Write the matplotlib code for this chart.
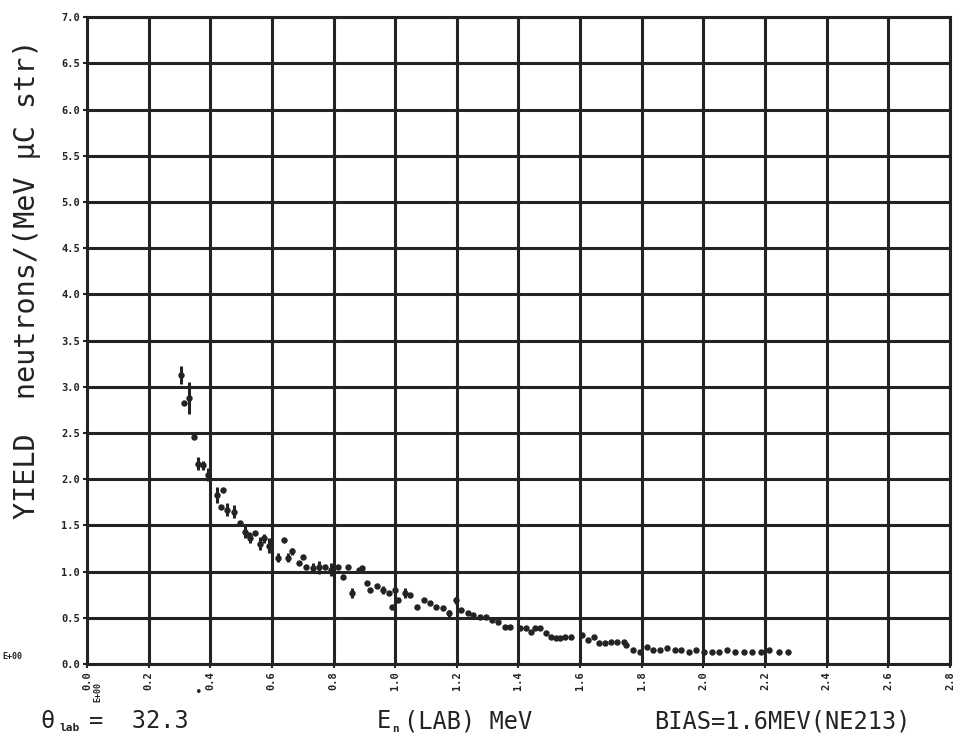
import numpy as np
import matplotlib.pyplot as plt

# neutron yield vs energy
energy = [0.304, 0.316, 0.331, 0.346, 0.361, 0.376, 0.392, 0.422, 0.440, 0.434,
          0.455, 0.476, 0.497, 0.512, 0.527, 0.530, 0.545, 0.560, 0.575, 0.590,
          0.620, 0.639, 0.651, 0.666, 0.687, 0.702, 0.711, 0.732, 0.753, 0.771,
          0.792, 0.813, 0.831, 0.846, 0.861, 0.883, 0.892, 0.910, 0.920, 0.940,
          0.961, 0.979, 1.000, 0.991, 1.009, 1.033, 1.048, 1.072, 1.093, 1.114,
          1.132, 1.154, 1.175, 1.199, 1.214, 1.235, 1.253, 1.274, 1.295, 1.313,
          1.334, 1.355, 1.373, 1.404, 1.425, 1.440, 1.455, 1.470, 1.491, 1.506,
          1.521, 1.536, 1.551, 1.569, 1.605, 1.627, 1.645, 1.660, 1.681, 1.702,
          1.720, 1.741, 1.750, 1.771, 1.795, 1.816, 1.837, 1.861, 1.883, 1.907,
          1.928, 1.952, 1.976, 2.003, 2.027, 2.051, 2.078, 2.102, 2.133, 2.157,
          2.187, 2.214, 2.244, 2.274]
yld = [3.13, 2.82, 2.88, 2.46, 2.17, 2.15, 2.05, 1.83, 1.88, 1.70,
       1.67, 1.65, 1.53, 1.43, 1.40, 1.36, 1.42, 1.30, 1.36, 1.28,
       1.15, 1.34, 1.15, 1.22, 1.09, 1.16, 1.05, 1.04, 1.05, 1.05,
       1.02, 1.05, 0.94, 1.05, 0.77, 1.02, 1.04, 0.88, 0.80, 0.84,
       0.80, 0.77, 0.80, 0.62, 0.69, 0.77, 0.75, 0.62, 0.69, 0.66,
       0.62, 0.61, 0.55, 0.69, 0.58, 0.55, 0.53, 0.51, 0.51, 0.48,
       0.46, 0.40, 0.40, 0.39, 0.39, 0.35, 0.39, 0.39, 0.34, 0.29,
       0.28, 0.28, 0.29, 0.29, 0.31, 0.26, 0.29, 0.23, 0.23, 0.24,
       0.24, 0.24, 0.21, 0.15, 0.13, 0.18, 0.15, 0.15, 0.17, 0.15,
       0.15, 0.13, 0.15, 0.13, 0.13, 0.13, 0.15, 0.13, 0.13, 0.13,
       0.13, 0.15, 0.13, 0.13]
err = [0.10, 0.0, 0.17, 0.0, 0.07, 0.05, 0.07, 0.09, 0.0, 0.0,
       0.07, 0.07, 0.0, 0.07, 0.0, 0.05, 0.0, 0.07, 0.05, 0.08,
       0.05, 0.0, 0.05, 0.04, 0.0, 0.0, 0.0, 0.05, 0.07, 0.0,
       0.07, 0.0, 0.0, 0.0, 0.05, 0.0, 0.0, 0.0, 0.0, 0.0,
       0.04, 0.0, 0.05, 0.0, 0.0, 0.05, 0.0, 0.0, 0.0, 0.0,
       0.0, 0.0, 0.04, 0.04, 0.0, 0.0, 0.0, 0.0, 0.0, 0.0,
       0.0, 0.0, 0.0, 0.0, 0.0, 0.0, 0.0, 0.0, 0.0, 0.0,
       0.0, 0.0, 0.0, 0.0, 0.0, 0.0, 0.0, 0.0, 0.0, 0.0,
       0.0, 0.0, 0.0, 0.0, 0.0, 0.0, 0.0, 0.0, 0.0, 0.0,
       0.0, 0.0, 0.0, 0.0, 0.0, 0.0, 0.0, 0.0, 0.0, 0.0,
       0.0, 0.0, 0.0, 0.0]

xticks = np.arange(0, 2.81, 0.2)
yticks = np.arange(0, 7.01, 0.5)
ink = '#232323'
mono = 'DejaVu Sans Mono'

fig = plt.figure(figsize=(9.62, 7.47), dpi=100)
ax = fig.add_axes([0.0904, 0.111, 0.897, 0.866])

ax.errorbar(energy, yld, yerr=err, fmt='o', ms=3.6, color=ink,
            elinewidth=2.2, capsize=0, zorder=3)

ax.set_xlim(0, 2.8)
ax.set_ylim(0, 7.0)
ax.set_xticks(xticks)
ax.set_yticks(yticks)
ax.set_xticklabels([f'{v:.1f}' for v in xticks], rotation=90,
                   fontsize=7.5, fontweight='bold', family=mono)
ax.set_yticklabels([f'{v:.1f}' for v in yticks],
                   fontsize=7.5, fontweight='bold', family=mono)
ax.tick_params(axis='both', length=3, width=1.5, color=ink, pad=2, labelcolor=ink)
ax.grid(True, color=ink, lw=2.2)
for s in ax.spines.values():
    s.set_linewidth(2.2)
    s.set_color(ink)

# exponent markers of the plotter
fig.text(0.002, 0.118, 'E+00', fontsize=6, fontweight='bold', family=mono, color=ink)
fig.text(0.097, 0.063, 'E+00', fontsize=6, fontweight='bold', family=mono,
         color=ink, rotation=90)

ax.set_ylabel('YIELD  neutrons/(MeV \u03bcC str)', family=mono, fontsize=20.5,
              color=ink)
ax.yaxis.set_label_coords(-0.053, 0.595)

# bottom annotations
fig.text(0.042, 0.025, '\u03b8', family=mono, fontsize=17, color=ink)
fig.text(0.062, 0.022, 'lab', family=mono, fontsize=8, fontweight='bold', color=ink)
fig.text(0.093, 0.025, '=  32.3', family=mono, fontsize=17, color=ink)
fig.text(0.203, 0.068, '\u2022', family=mono, fontsize=9, color=ink)
fig.text(0.392, 0.025, 'E', family=mono, fontsize=17, color=ink)
fig.text(0.408, 0.020, 'n', family=mono, fontsize=8, fontweight='bold', color=ink)
fig.text(0.420, 0.025, '(LAB) MeV', family=mono, fontsize=17, color=ink)
fig.text(0.680, 0.025, 'BIAS=1.6MEV(NE213)', family=mono, fontsize=17, color=ink)

fig.savefig('out.png', dpi=100)
